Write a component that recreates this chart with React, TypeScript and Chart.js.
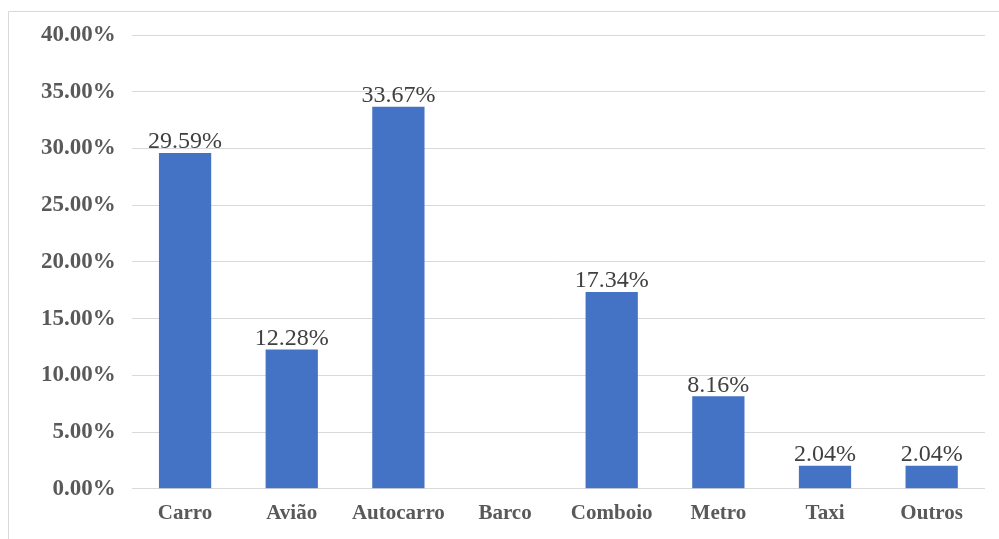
import React, { useEffect, useRef } from "react";
import { Chart, registerables } from "chart.js";

Chart.register(...registerables);

const categories = ["Carro", "Avião", "Autocarro", "Barco", "Comboio", "Metro", "Taxi", "Outros"];
const shares = [29.59, 12.28, 33.67, 0, 17.34, 8.16, 2.04, 2.04];
const yMax = 40;
const yStep = 5;

const SERIF = '"Liberation Serif", "Times New Roman", serif';

const borderPlugin = {
  id: "frame",
  beforeDraw(chart: any) {
    const ctx = chart.ctx;
    ctx.save();
    ctx.fillStyle = "#ffffff";
    ctx.fillRect(0, 0, chart.width, chart.height);
    ctx.strokeStyle = "#d9d9d9";
    ctx.lineWidth = 1;
    ctx.beginPath();
    ctx.moveTo(8.5, chart.height + 5);
    ctx.lineTo(8.5, 11.5);
    ctx.lineTo(chart.width + 5, 11.5);
    ctx.stroke();
    ctx.restore();
  },
};

const labelPlugin = {
  id: "valueLabels",
  afterDatasetsDraw(chart: any) {
    const ctx = chart.ctx;
    const meta = chart.getDatasetMeta(0);
    const data = chart.data.datasets[0].data as number[];
    ctx.save();
    ctx.font = `24px ${SERIF}`;
    ctx.fillStyle = "#404040";
    ctx.textAlign = "center";
    ctx.textBaseline = "bottom";
    meta.data.forEach((bar: any, i: number) => {
      const v = data[i];
      if (!v) return;
      ctx.fillText(v.toFixed(2) + "%", bar.x, bar.y + 1);
    });
    ctx.restore();
  },
};

export default function App() {
  const ref = useRef<HTMLCanvasElement | null>(null);
  useEffect(() => {
    if (!ref.current) return;
    const chart = new Chart(ref.current, {
      type: "bar",
      data: {
        labels: categories,
        datasets: [
          {
            data: shares,
            backgroundColor: "#4472C4",
            categoryPercentage: 1,
            barPercentage: 0.49,
          },
        ],
      },
      options: {
        responsive: false,
        animation: false,
        layout: { padding: { left: 25, right: 14, top: 35, bottom: 0 } },
        plugins: {
          legend: { display: false },
          tooltip: { enabled: false },
        },
        scales: {
          x: {
            grid: { display: false, drawTicks: false, tickLength: 0 },
            border: { display: false },
            ticks: {
              color: "#595959",
              padding: 12.5,
              font: { family: SERIF, size: 21, weight: "bold" },
            },
          },
          y: {
            min: 0,
            max: yMax,
            grid: { color: "#d9d9d9", lineWidth: 1, drawTicks: false },
            border: { display: false },
            ticks: {
              stepSize: yStep,
              color: "#595959",
              padding: 16,
              font: { family: SERIF, size: 23, weight: "bold" },
              callback: (v: any) => Number(v).toFixed(2) + "%",
            },
          },
        },
      },
      plugins: [borderPlugin, labelPlugin],
    });
    return () => chart.destroy();
  }, []);
  return (
    <div style={{ position: "fixed", left: 0, top: 0, width: 999, height: 539, background: "#fff" }}>
      <canvas ref={ref} width={999} height={539} />
    </div>
  );
}
